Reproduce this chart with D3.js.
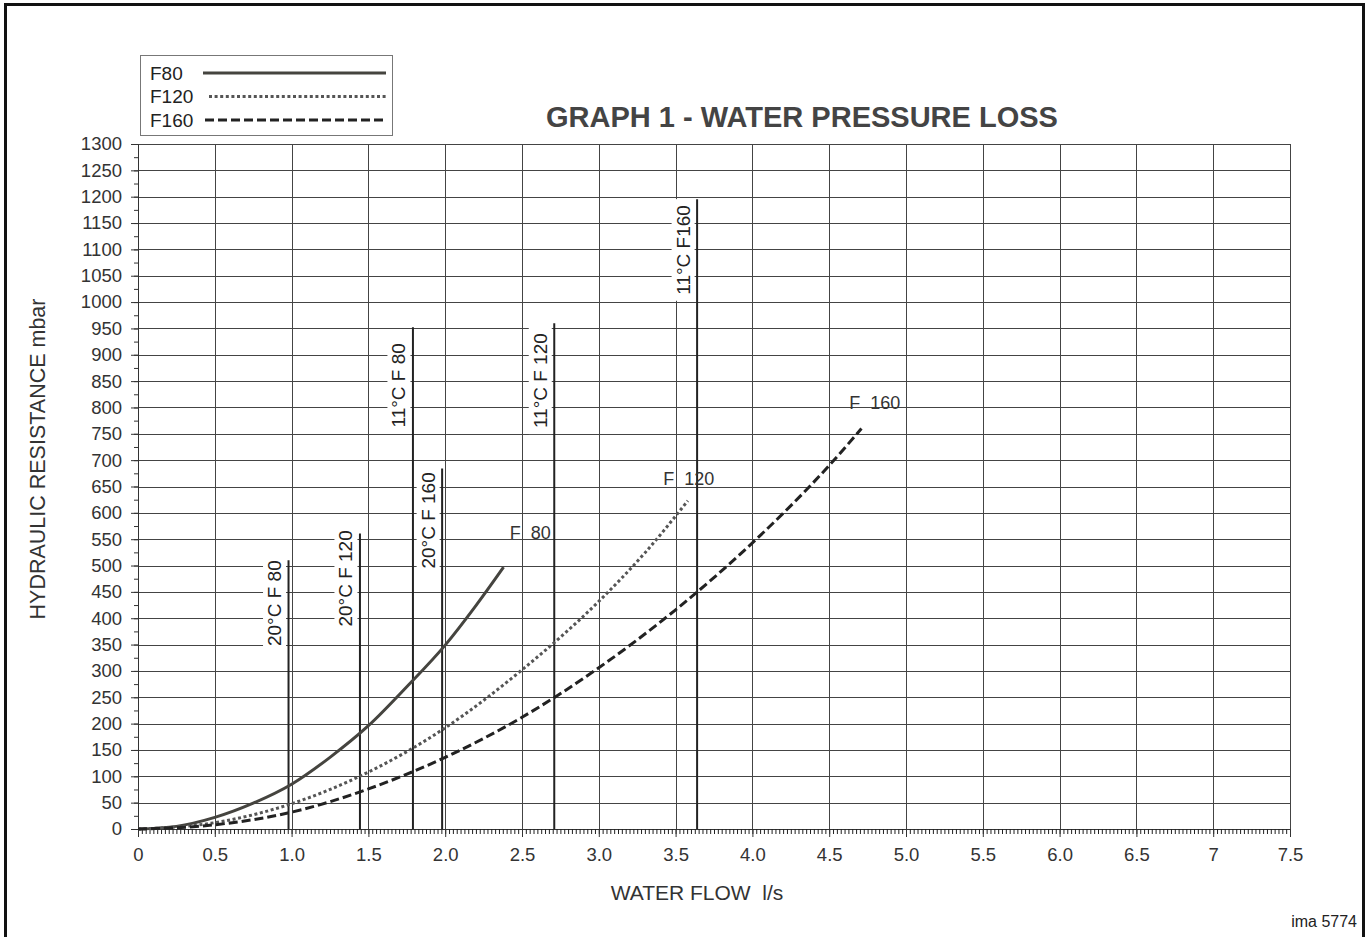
<!DOCTYPE html>
<html>
<head>
<meta charset="utf-8">
<script src="https://cdn.jsdelivr.net/npm/d3@7"></script>
<style>
  html, body { margin: 0; padding: 0; background: #fff; }
  svg { display: block; font-family: "Liberation Sans", Arial, sans-serif; }
  text { white-space: pre; }
</style>
</head>
<body>
<svg id="chart" width="1372" height="937"></svg>
<script>
// ---- Data ----
const f80Flow = [0, 0.25, 0.5, 0.75, 1.0, 1.25, 1.5, 1.75, 2.0, 2.2, 2.38];
const f80Loss = [0, 5, 22, 49, 85, 136, 196, 270, 349, 424, 497];
const f120Flow = [0, 0.5, 1.0, 1.5, 2.0, 2.5, 3.0, 3.3, 3.58];
const f120Loss = [0, 12, 48, 108, 192, 302, 432, 524, 623];
const f160Flow = [0, 0.5, 1.0, 1.5, 2.0, 2.5, 3.0, 3.5, 4.0, 4.5, 4.71];
const f160Loss = [0, 8, 32, 76, 136, 212, 306, 416, 543, 690, 760];

const seriesNames = ["F80", "F120", "F160"];
const curveLabels = ["F  80", "F  120", "F  160"];
const curveLabelFlow = [2.42, 3.42, 4.63];
const curveLabelLoss = [550, 653, 797];

const limitNames = ["20°C F 80", "20°C F 120", "11°C F 80", "20°C F 160", "11°C F 120", "11°C F160"];
const limitFlow = [0.98, 1.445, 1.79, 1.98, 2.71, 3.64];
const limitTop = [510, 561, 952, 684, 960, 1195];
const limitLabelTop = [510, 567, 922, 677, 941, 1184];

const xTickValues = [0, 0.5, 1, 1.5, 2, 2.5, 3, 3.5, 4, 4.5, 5, 5.5, 6, 6.5, 7, 7.5];
const xTickLabels = ["0", "0.5", "1.0", "1.5", "2.0", "2.5", "3.0", "3.5", "4.0", "4.5", "5.0", "5.5", "6.0", "6.5", "7", "7.5"];
const yTickValues = d3.range(0, 1301, 50);

const titleText = "GRAPH 1 - WATER PRESSURE LOSS";
const xTitle = "WATER FLOW  l/s";
const yTitle = "HYDRAULIC RESISTANCE mbar";
const refText = "ima 5774";

// ---- Layout ----
const svg = d3.select("#chart");
const L = 138, R = 1290, T = 144, B = 829;
const x = d3.scaleLinear().domain([0, 7.5]).range([L, R]);
const y = d3.scaleLinear().domain([0, 1300]).range([B, T]);
const ink = "#333";
const FF = "Liberation Sans, Arial, sans-serif";

// frame
svg.append("rect").attr("x", 5.5).attr("y", 4.5).attr("width", 1358).attr("height", 945)
  .attr("fill", "none").attr("stroke", "#111").attr("stroke-width", 3);

// grid
const grid = svg.append("g");
grid.selectAll("line.h").data(yTickValues).join("line")
  .attr("x1", L).attr("x2", R)
  .attr("y1", d => Math.round(y(d)) + 0.5).attr("y2", d => Math.round(y(d)) + 0.5)
  .attr("stroke", "#444").attr("stroke-width", 1);
grid.selectAll("line.v").data(xTickValues).join("line")
  .attr("y1", T).attr("y2", B)
  .attr("x1", d => Math.round(x(d)) + 0.5).attr("x2", d => Math.round(x(d)) + 0.5)
  .attr("stroke", "#444").attr("stroke-width", 1);

// x axis
const xAxisMinor = d3.axisBottom(x).tickValues(d3.range(0, 300).map(i => i * 0.025)).tickSize(5).tickFormat("");
const gxm = svg.append("g").attr("transform", `translate(0,${B})`).call(xAxisMinor);
gxm.select(".domain").attr("stroke", ink);
gxm.selectAll(".tick line").attr("stroke", "#222");
const xAxis = d3.axisBottom(x).tickValues(xTickValues).tickSize(8).tickPadding(11)
  .tickFormat((d, i) => xTickLabels[i]);
const gx = svg.append("g").attr("transform", `translate(0,${B})`).call(xAxis);
gx.select(".domain").remove();
gx.selectAll(".tick line").attr("stroke", ink);
gx.selectAll(".tick text").attr("font-size", 18.5).attr("fill", ink).attr("font-family", FF);

// y axis
const yAxisMinor = d3.axisLeft(y).tickValues(d3.range(0, 1301, 25)).tickSize(4).tickFormat("");
const gym = svg.append("g").attr("transform", `translate(${L},0)`).call(yAxisMinor);
gym.select(".domain").attr("stroke", ink);
gym.selectAll(".tick line").attr("stroke", ink);
const yAxis = d3.axisLeft(y).tickValues(yTickValues).tickSize(7).tickPadding(9).tickFormat(d3.format("d"));
const gy = svg.append("g").attr("transform", `translate(${L},0)`).call(yAxis);
gy.select(".domain").remove();
gy.selectAll(".tick line").attr("stroke", ink);
gy.selectAll(".tick text").attr("font-size", 18.5).attr("fill", ink).attr("font-family", FF);

// limit lines
const lim = svg.append("g");
limitFlow.forEach((f, i) => {
  const lx = x(f);
  const g = lim.append("g");
  const lbl = g.append("g").attr("transform", `translate(${lx - 7.5},${y(limitLabelTop[i])}) rotate(-90)`);
  const t = lbl.append("text").attr("x", 0).attr("y", 0).attr("text-anchor", "end")
    .attr("font-size", 19).attr("fill", "#222").text(limitNames[i]);
  const bb = t.node().getBBox();
  lbl.insert("rect", "text").attr("x", bb.x - 6).attr("y", bb.y - 1)
    .attr("width", bb.width + 12).attr("height", bb.height + 2).attr("fill", "#fff");
  g.append("line").attr("x1", lx).attr("x2", lx).attr("y1", y(0)).attr("y2", y(limitTop[i]))
    .attr("stroke", "#222").attr("stroke-width", 2);
});

// curves
const line = d3.line().x(d => x(d[0])).y(d => y(d[1])).curve(d3.curveMonotoneX);
const seriesData = [
  d3.zip(f80Flow, f80Loss),
  d3.zip(f120Flow, f120Loss),
  d3.zip(f160Flow, f160Loss)
];
const styles = [
  { color: "#45443f", dash: null },
  { color: "#555", dash: "3,2.6" },
  { color: "#222", dash: "9,4" }
];
seriesData.forEach((d, i) => {
  svg.append("path").datum(d).attr("d", line).attr("fill", "none")
    .attr("stroke", styles[i].color).attr("stroke-width", 3)
    .attr("stroke-dasharray", styles[i].dash);
  svg.append("text").attr("x", x(curveLabelFlow[i])).attr("y", y(curveLabelLoss[i]))
    .attr("font-size", 18).attr("fill", "#333").text(curveLabels[i]);
});

// legend
const lg = svg.append("g");
lg.append("rect").attr("x", 140.5).attr("y", 55.5).attr("width", 252).attr("height", 80)
  .attr("fill", "#fff").attr("stroke", "#777").attr("stroke-width", 1);
seriesNames.forEach((n, i) => {
  const yy = 73 + i * 23.5;
  lg.append("text").attr("x", 150).attr("y", yy + 6.5).attr("font-size", 19).attr("fill", "#222").text(n);
  lg.append("line").attr("x1", i === 0 ? 203 : (i === 1 ? 209 : 205)).attr("x2", 386)
    .attr("y1", yy).attr("y2", yy)
    .attr("stroke", styles[i].color).attr("stroke-width", 3)
    .attr("stroke-dasharray", styles[i].dash);
});

// titles
svg.append("text").attr("x", 802).attr("y", 127).attr("text-anchor", "middle")
  .attr("font-size", 29).attr("font-weight", "bold").attr("fill", "#444").text(titleText);
svg.append("text").attr("x", 697).attr("y", 900).attr("text-anchor", "middle")
  .attr("font-size", 21).attr("fill", ink).text(xTitle);
svg.append("text").attr("transform", `translate(45,459) rotate(-90)`).attr("text-anchor", "middle")
  .attr("font-size", 21.5).attr("fill", ink).text(yTitle);
svg.append("text").attr("x", 1357).attr("y", 927).attr("text-anchor", "end")
  .attr("font-size", 16).attr("fill", "#222").text(refText);
</script>
</body>
</html>
